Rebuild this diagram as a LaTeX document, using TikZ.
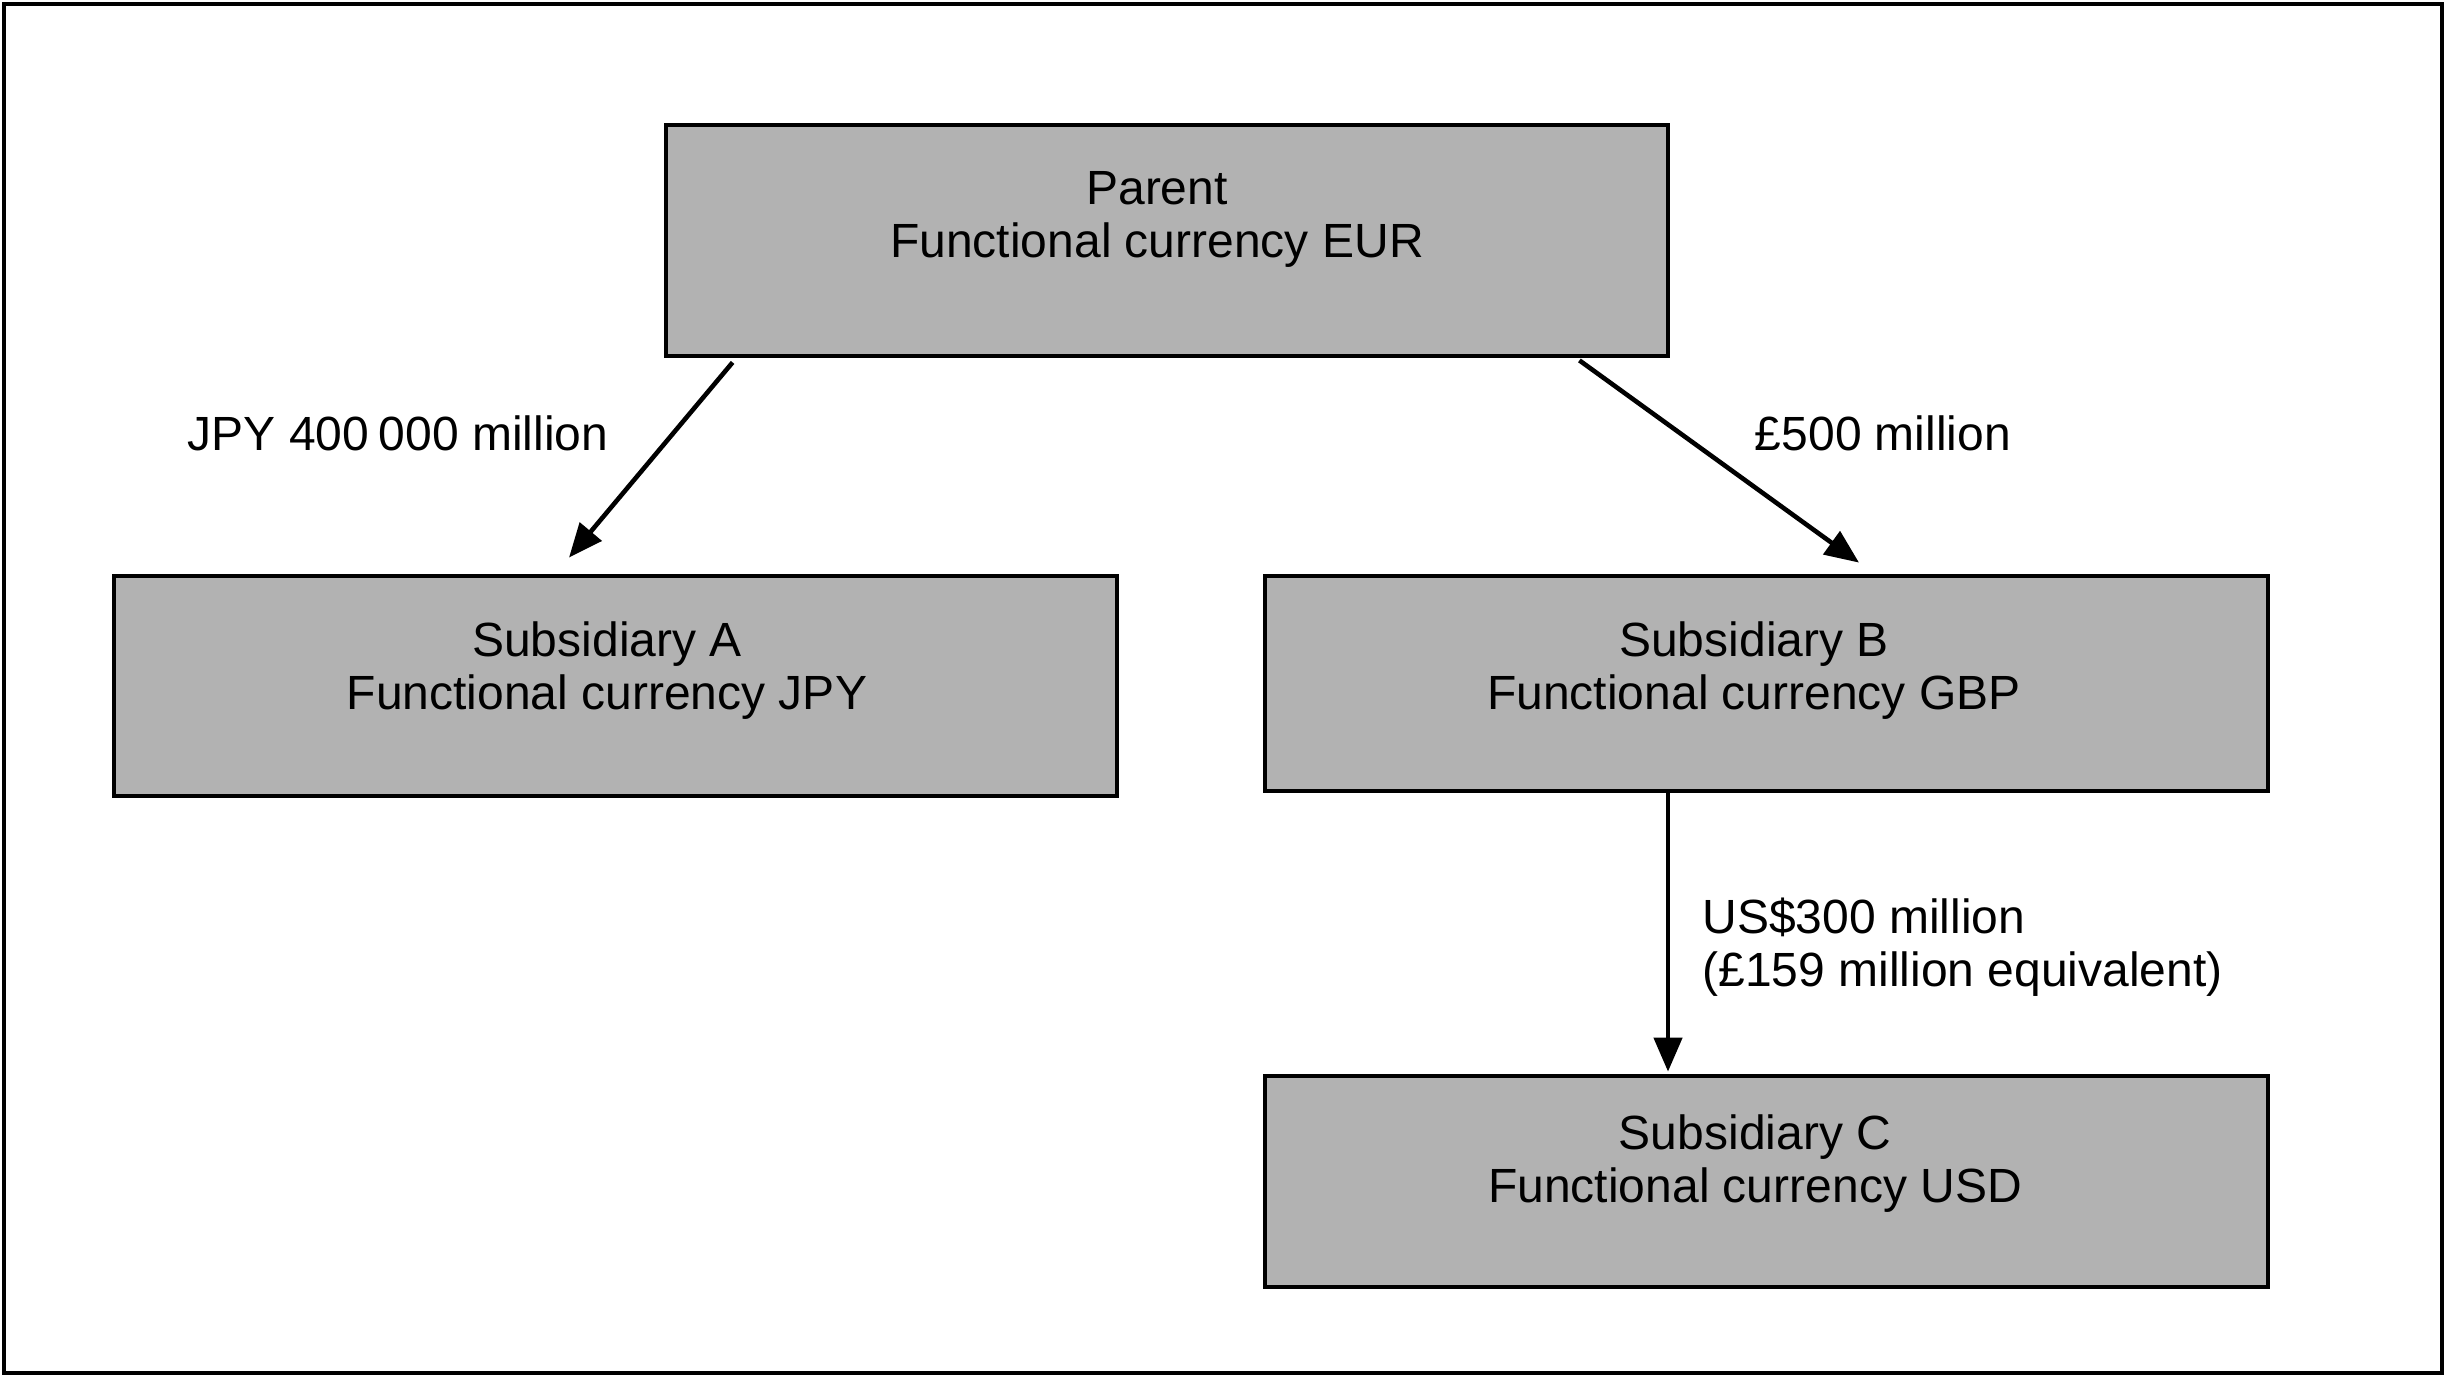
\documentclass[tikz,border=0pt]{standalone}
\usepackage{fontspec}
\setmainfont{Liberation Sans}
\usetikzlibrary{arrows.meta,calc}
\begin{document}
\begin{tikzpicture}[x=0.5pt,y=-0.5pt,
  box/.style={draw=black,line width=2.4pt,fill=black!30,inner sep=0pt},
  btext/.style={align=center,inner sep=0pt,font=\fontsize{24}{26.5}\selectfont},
  lbl/.style={inner sep=0pt,font=\fontsize{24}{26.5}\selectfont},
  arr/.style={line width=2.3pt,-{Triangle[length=17pt,width=14pt]}}]
\useasboundingbox (0,0) rectangle (2446,1376);
\draw[line width=2pt] (4,4) rectangle (2442,1373);
\node[box,minimum width=501pt,minimum height=115.5pt] (parent) at (1167,240.5) {};
\node[box,minimum width=501.5pt,minimum height=110pt] (subA) at (615.5,686) {};
\node[box,minimum width=501.5pt,minimum height=107.5pt] (subB) at (1766.5,683.5) {};
\node[box,minimum width=501.5pt,minimum height=105.5pt] (subC) at (1766.5,1181.5) {};
\node[btext] (parentT) at (1157,219.5) {Parent\\Functional currency EUR};
\node[btext] (subAT) at (607,671) {Subsidiary A\\Functional currency JPY};
\node[btext] (subBT) at (1754,671) {Subsidiary B\\Functional currency GBP};
\node[btext] (subCT) at (1755,1164) {Subsidiary C\\Functional currency USD};
\draw[arr] ([xshift=34.5pt,yshift=-2pt]parent.south west) -- ([xshift=-23.25pt,yshift=8pt]subA.north);
\draw[arr] ([xshift=-45.5pt,yshift=-1pt]parent.south east) -- ([xshift=46.25pt,yshift=5.5pt]subB.north);
\draw[arr] ([xshift=-49.25pt]subB.south) -- ([xshift=-49.25pt,yshift=1pt]subC.north);
\node[lbl] (l1) at (398,433) {JPY 400\hspace{0.2em}000 million};
\node[lbl] (l2) at (1883,433) {£500 million};
\node[lbl,anchor=west,align=left] (l3) at (1702,947) {US\$300 million\\(£159 million equivalent)};
\end{tikzpicture}
\end{document}
